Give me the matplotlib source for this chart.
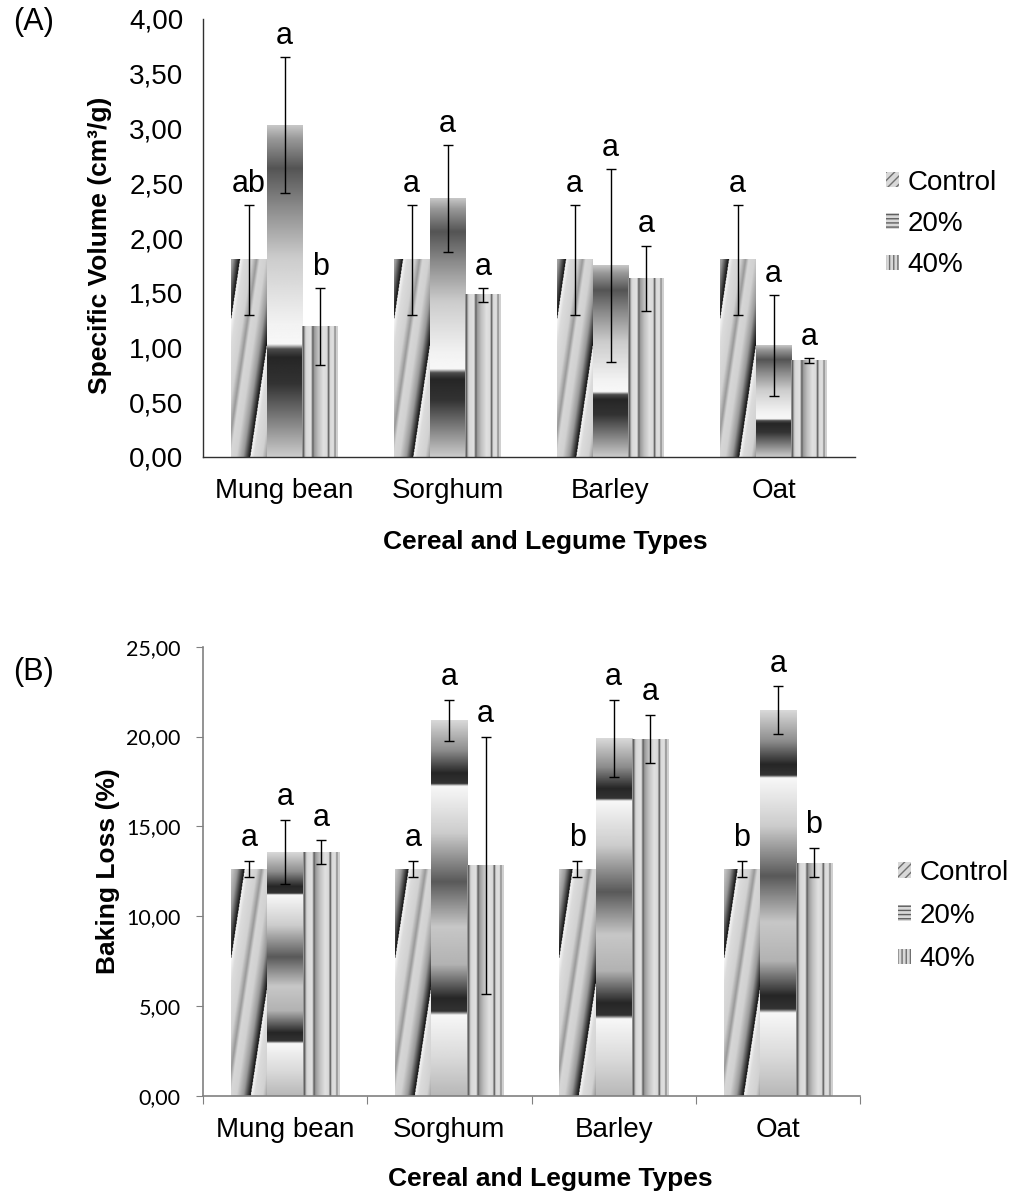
import numpy as np
import matplotlib.pyplot as plt
from matplotlib.patches import Patch
from matplotlib.ticker import FuncFormatter

plt.rcParams['font.family'] = ['Liberation Sans', 'DejaVu Sans']

categories = ['Mung bean', 'Sorghum', 'Barley', 'Oat']
series = ['Control', '20%', '40%']

# (A) specific volume, cm3/g
vol_control = [1.80, 1.80, 1.80, 1.80]
vol_control_err = [0.50, 0.50, 0.50, 0.50]
vol_20 = [3.03, 2.36, 1.75, 1.02]
vol_20_err = [0.62, 0.49, 0.88, 0.46]
vol_40 = [1.19, 1.48, 1.63, 0.88]
vol_40_err = [0.35, 0.06, 0.30, 0.02]
vol_letters = [['ab', 'a', 'a', 'a'], ['a', 'a', 'a', 'a'], ['b', 'a', 'a', 'a']]

# (B) baking loss, %
loss_control = [12.62, 12.62, 12.62, 12.62]
loss_control_err = [0.46, 0.46, 0.46, 0.46]
loss_20 = [13.57, 20.90, 19.90, 21.46]
loss_20_err = [1.80, 1.13, 2.14, 1.33]
loss_40 = [13.57, 12.82, 19.87, 12.97]
loss_40_err = [0.65, 7.17, 1.33, 0.82]
loss_letters = [['a', 'a', 'b', 'b'], ['a', 'a', 'a', 'a'], ['a', 'a', 'a', 'b']]

# metallic fill profiles (grey levels)
ctrl_xp = [0, .1, .3, .42, .5, .65, .82, .93, 1.0]
ctrl_fp = [.97, .86, .82, .6, .84, .82, .6, .25, .05]
h20_a_xp = [0, .04, .13, .25, .4, .6, .66, .675, .7, .78, 1.0]
h20_a_fp = [.78, .6, .33, .55, .8, .95, .97, .3, .15, .2, .8]
h20_b_xp = [0, .08, .14, .168, .175, .3, .43, .55, .65, .74, .775, .785, .9, 1.0]
h20_b_fp = [.85, .55, .15, .2, .97, .8, .35, .78, .7, .15, .2, .97, .85, .72]
v40_xp = [0, .04, .08, .12, .25, .3, .34, .45, .6, .7, .74, .78, .88, .92, .96, 1.0]
v40_fp = [.7, .3, .75, .85, .88, .35, .6, .75, .88, .85, .3, .85, .88, .5, .85, .8]


def pattern(kind, w_px, h_px, panel):
    if kind == 0:
        nx, ny = max(int(w_px * 2), 4), max(int(h_px * 2), 4)
        X, Y = np.meshgrid(np.linspace(0, w_px, nx), np.linspace(h_px, 0, ny))
        s = np.mod((X - 0.15 * Y - 19.3) / 40.0, 1.0)
        return np.interp(s, ctrl_xp, ctrl_fp)
    if kind == 1:
        t = np.linspace(0, 1, 500)[:, None]
        if panel == 0:
            col = np.interp(t, h20_a_xp, h20_a_fp)
        else:
            col = np.interp(t, h20_b_xp, h20_b_fp)
        return np.repeat(col, 2, axis=1)
    u = np.linspace(0, 1, 200)[None, :]
    return np.repeat(np.interp(u, v40_xp, v40_fp), 2, axis=0)


def comma(v, p):
    return f'{v:.2f}'.replace('.', ',')


def draw_panel(ax, values, errs, letters, ymax, panel, text_off):
    x = np.arange(len(categories))
    width = 0.22
    ax.set_xlim(-0.5, 3.5)
    ax.set_ylim(0, ymax)
    px_x = ax.bbox.width / 4.0
    px_y = ax.bbox.height / ymax
    for i in range(3):
        pos = x + (i - 1) * width
        rects = ax.bar(pos, values[i], width, color='none', edgecolor='none')
        for r in rects:
            x0, w, h = r.get_x(), r.get_width(), r.get_height()
            img = pattern(i, w * px_x, h * px_y, panel)
            ax.imshow(img, cmap='gray', vmin=0, vmax=1, aspect='auto',
                      extent=[x0, x0 + w, 0, h], zorder=2)
        ax.errorbar(pos, values[i], yerr=errs[i], fmt='none', ecolor='black',
                    elinewidth=1, capsize=3.6, capthick=1, zorder=4)
        for j in range(len(categories)):
            ax.annotate(letters[i][j], (pos[j], values[i][j] + errs[i][j]),
                        xytext=(0, text_off), textcoords='offset points',
                        ha='center', va='baseline', fontsize=22, zorder=5)
    ax.set_xlim(-0.5, 3.5)
    ax.set_ylim(0, ymax)
    ax.spines['top'].set_visible(False)
    ax.spines['right'].set_visible(False)
    ax.yaxis.set_major_formatter(FuncFormatter(comma))


fig = plt.figure(figsize=(10.11, 11.93), dpi=100)
ax1 = fig.add_axes([203 / 1011, 1 - 457 / 1193, 652 / 1011, 438 / 1193])
ax2 = fig.add_axes([203 / 1011, 1 - 1095.7 / 1193, 657 / 1011, 449 / 1193])

draw_panel(ax1, [vol_control, vol_20, vol_40],
           [vol_control_err, vol_20_err, vol_40_err], vol_letters, 4.0, 0, 9.5)
ax1.set_yticks(np.arange(0, 4.01, 0.5))
ax1.set_xticks(np.arange(4))
ax1.set_xticklabels(categories)
ax1.tick_params(axis='both', length=0, labelsize=20)
ax1.tick_params(axis='y', pad=14)
ax1.tick_params(axis='x', pad=15)
for sp in ['left', 'bottom']:
    ax1.spines[sp].set_color('#303030')
    ax1.spines[sp].set_linewidth(1)
ax1.text(-0.158, 0.484, 'Specific Volume (cm³/g)', transform=ax1.transAxes,
         rotation=90, ha='center', va='center', fontsize=19, fontweight='bold')
ax1.text(0.525, -0.194, 'Cereal and Legume Types', transform=ax1.transAxes,
         ha='center', va='center', fontsize=19, fontweight='bold')

draw_panel(ax2, [loss_control, loss_20, loss_40],
           [loss_control_err, loss_20_err, loss_40_err], loss_letters, 25.0, 1, 10.5)
ax2.set_yticks(np.arange(0, 25.01, 5))
ax2.set_xticks([-0.5, 0.5, 1.5, 2.5, 3.5])
ax2.set_xticklabels([])
ax2.set_xticks(np.arange(4), minor=True)
ax2.set_xticklabels(categories, minor=True, fontsize=20)
ax2.tick_params(axis='x', which='major', length=6, direction='out', color='#808080')
ax2.tick_params(axis='x', which='minor', length=0, pad=15)
ax2.tick_params(axis='y', length=5, direction='out', color='#808080', pad=11)
for lab in ax2.get_yticklabels():
    lab.set_fontfamily(['Lato', 'DejaVu Sans'])
    lab.set_fontsize(15.5)
for sp in ['left', 'bottom']:
    ax2.spines[sp].set_color('#808080')
    ax2.spines[sp].set_linewidth(1.2)
ax2.text(-0.145, 0.50, 'Baking Loss (%)', transform=ax2.transAxes,
         rotation=90, ha='center', va='center', fontsize=19, fontweight='bold')
ax2.text(0.528, -0.185, 'Cereal and Legume Types', transform=ax2.transAxes,
         ha='center', va='center', fontsize=19, fontweight='bold')

fig.text(13 / 1011, 1 - 22 / 1193, '(A)', fontsize=22, ha='left', va='center')
fig.text(13 / 1011, 1 - 672 / 1193, '(B)', fontsize=22, ha='left', va='center')

handles = [Patch(facecolor='#d8d8d8', edgecolor='#707070', hatch='////', lw=0),
           Patch(facecolor='#d8d8d8', edgecolor='#606060', hatch='----', lw=0),
           Patch(facecolor='#d8d8d8', edgecolor='#707070', hatch='||||', lw=0)]
for ax, lx, ly, sp in [(ax1, 886, 224, 0.55), (ax2, 898, 916, 0.62)]:
    ax.legend(handles, series, loc='center left',
              bbox_to_anchor=(lx / 1011, 1 - ly / 1193), bbox_transform=fig.transFigure,
              frameon=False, fontsize=20, handlelength=0.47, handleheight=0.47,
              handletextpad=0.3, labelspacing=sp, borderpad=0, borderaxespad=0)

fig.savefig('out.png', dpi=100)
